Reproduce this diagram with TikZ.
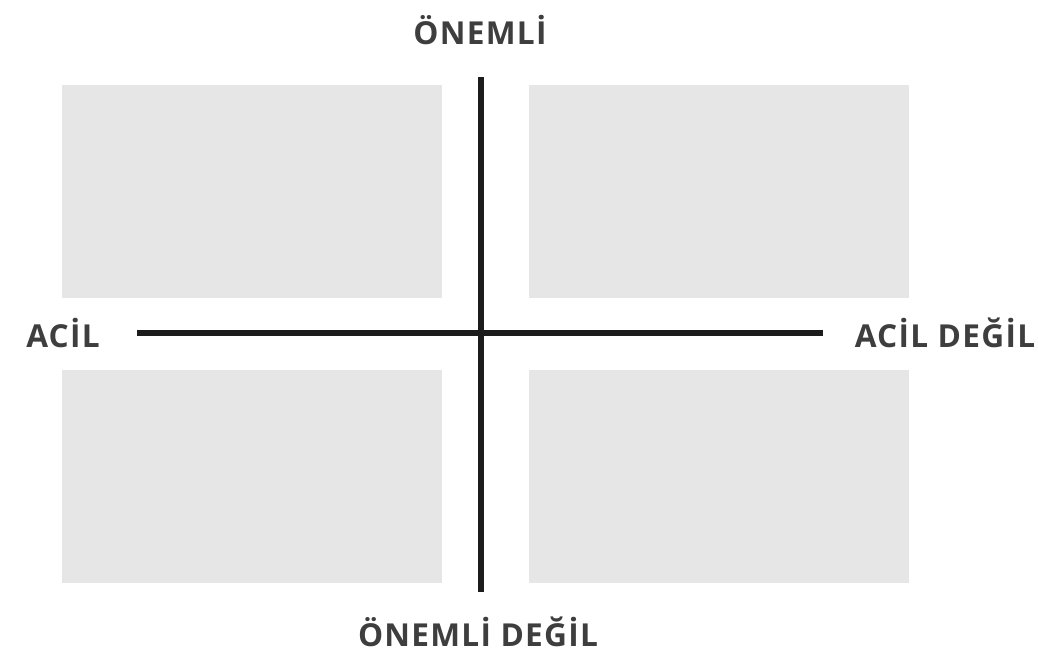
\documentclass[tikz,border=0pt]{standalone}
\usepackage{fontspec}
\setmainfont{Open Sans}[LetterSpace=4]
\usetikzlibrary{positioning}
\definecolor{quadgray}{RGB}{230,230,230}
\definecolor{axisdark}{RGB}{28,28,28}

\begin{document}
\begin{tikzpicture}[x=0.02cm,y=-0.02cm,
  quad/.style={fill=quadgray,draw=none,minimum width=7.6cm,minimum height=4.26cm,inner sep=0pt},
  axisline/.style={line width=3.6pt,color=axisdark},
  lbl/.style={font=\bfseries\fontsize{18}{21}\selectfont,text=axisdark!85,inner sep=0pt}]
  \useasboundingbox (0,0) rectangle (1038,660);
  % four quadrants
  \node[quad] (ul) at (252,191.5) {};
  \node[quad] (ur) at (719,191.5) {};
  \node[quad] (ll) at (252,476.5) {};
  \node[quad] (lr) at (719,476.5) {};
  % axis ends
  \coordinate (vtop) at (481,77);
  \coordinate (vbot) at (481,592);
  \coordinate (hleft) at (137,333);
  \coordinate (hright) at (823,333);
  \draw[axisline] (vtop)--(vbot);
  \draw[axisline] (hleft)--(hright);
  % labels
  \node[lbl] (imp) at (480,30) {ÖNEMLİ};
  \node[lbl] (notimp) at (478,632) {ÖNEMLİ DEĞİL};
  \node[lbl] (urg) at (63,333) {ACİL};
  \node[lbl] (noturg) at (945,333) {ACİL DEĞİL};
\end{tikzpicture}
\end{document}
